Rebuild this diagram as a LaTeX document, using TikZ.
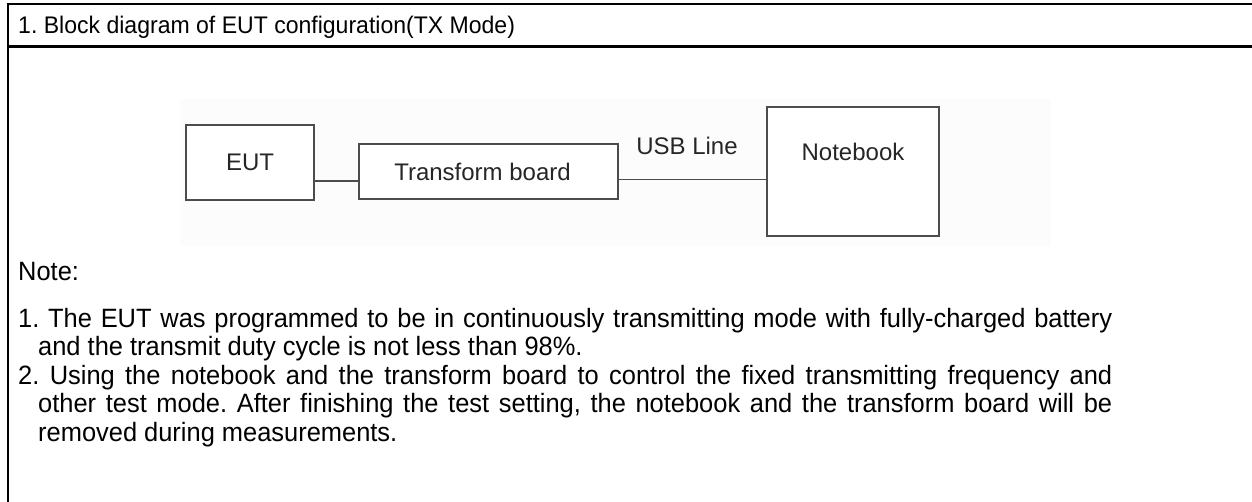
\documentclass[tikz,border=0pt]{standalone}
\usepackage{fontspec}
\setmainfont{Liberation Sans}[FakeStretch=0.96]
\newfontfamily\boxfont{Liberation Sans}
\usetikzlibrary{calc}
\begin{document}
\frenchspacing
\begin{tikzpicture}[x=1pt,y=-1pt,
  frame/.style={line width=2.2pt,black},
  blk/.style={draw=black!70,line width=1.6pt,inner sep=0pt,fill=white,
    text=black!85,font=\boxfont\fontsize{24}{28}\selectfont},
  wire/.style={draw=black!70,line width=1.6pt},
  lbl/.style={text=black!85,font=\boxfont\fontsize{24}{28}\selectfont,inner sep=0pt},
  txt/.style={inner sep=0pt,font=\fontsize{26.5}{28.5}\selectfont}]
\useasboundingbox (0,0) rectangle (1252,502);
% frame
\draw[frame] (7,4) -- (1252,4);
\draw[frame] (7,46.5) -- (1252,46.5);
\draw[frame] (8,3) -- (8,502);
\node[anchor=base west,inner sep=0pt,font=\fontsize{24}{26}\selectfont] (title) at (18,33.5) {1. Block diagram of EUT configuration(TX Mode)};
% faint picture background
\fill[black!1] (180,99) rectangle (1051,246);
% blocks
\node[blk,minimum width=128pt,minimum height=75pt] (eut) at (250,162.5) {EUT};
\node[blk,minimum width=259pt,minimum height=55pt] (tb) at (488.5,171.5) {\hspace*{-12pt}Transform board};
\node[blk,minimum width=172pt,minimum height=129pt] (nb) at (853,171.5) {};
\node[lbl] (nbt) at (853,152) {Notebook};
\node[lbl] (usb) at (687,146) {USB Line};
\draw[wire] (eut.east |- 0,181) -- (tb.west |- 0,181);
\draw[wire] (tb.east |- 0,179.5) -- (nb.west |- 0,179.5);
% notes
\node[txt,anchor=base west] (note) at (18,281) {Note:};
\node[txt,anchor=base west,text width=1094pt,align=justify] (items) at (18,327) {%
\noindent\hangindent=20pt\hangafter=1 1. The EUT was programmed to be in continuously transmitting mode with fully-charged battery\linebreak and the transmit duty cycle is not less than 98\%.\par
\noindent\hangindent=20pt\hangafter=1 2. Using the notebook and the transform board to control the fixed transmitting frequency and\linebreak other test mode. After finishing the test setting, the notebook and the transform board will be\linebreak removed during measurements.\par};
\end{tikzpicture}
\end{document}
